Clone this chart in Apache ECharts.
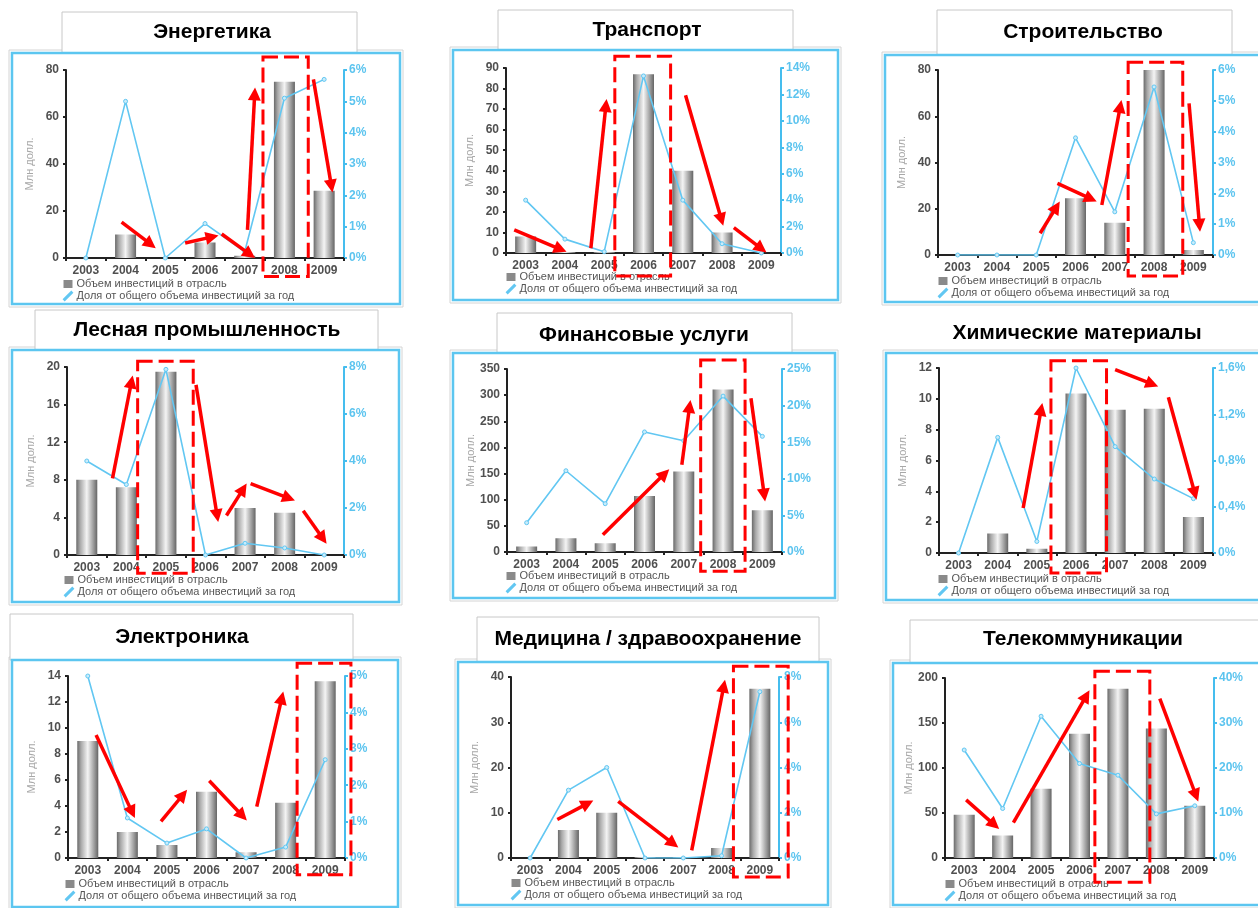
<!DOCTYPE html>
<html><head><meta charset="utf-8">
<script src="https://cdn.jsdelivr.net/npm/echarts@6/dist/echarts.min.js"></script>
<style>html,body{margin:0;padding:0;background:#fff}#c{width:1258px;height:908px}</style>
</head><body><div id="c"></div>
<script>
// ---------- DATA ----------
const years = ['2003', '2004', '2005', '2006', '2007', '2008', '2009'];
const barName = 'Объем инвестиций в отрасль';
const lineName = 'Доля от общего объема инвестиций за год';
const axisName = 'Млн долл.';
const titles = ['Энергетика', 'Транспорт', 'Строительство',
  'Лесная промышленность', 'Финансовые услуги', 'Химические материалы',
  'Электроника', 'Медицина / здравоохранение', 'Телекоммуникации'];

// investment volume, mln USD
const investEnergy    = [0, 10, 0, 6.6, 1, 75, 28.6];
const investTransport = [8, 0.5, 0.5, 87, 40, 10, 0];
const investBuilding  = [0, 0, 0, 24.5, 14, 80, 2.2];
const investForest    = [8, 7.2, 19.5, 0, 5, 4.5, 0];
const investFinance   = [10.5, 26.5, 16.5, 107, 154, 311, 80];
const investChemical  = [0, 1.27, 0.28, 10.35, 9.3, 9.35, 2.33];
const investElectro   = [9, 2, 1, 5.1, 0.45, 4.25, 13.6];
const investMedicine  = [0, 6.2, 10, 0.2, 0.2, 2.2, 37.4];
const investTelecom   = [48, 25, 77, 138, 188, 144, 58];

// share of the year's total investment, %
const shareEnergy    = [0, 5.0, 0, 1.1, 0.2, 5.1, 5.7];
const shareTransport = [4.0, 1.05, 0.1, 13.4, 4.0, 0.7, 0];
const shareBuilding  = [0, 0, 0, 3.8, 1.4, 5.45, 0.4];
const shareForest    = [4.0, 3.0, 7.9, 0, 0.5, 0.3, 0];
const shareFinance   = [4.0, 11.1, 6.6, 16.4, 15.2, 21.3, 15.8];
const shareChemical  = [0, 1.0, 0.1, 1.6, 0.92, 0.64, 0.47];
const shareElectro   = [5.0, 1.1, 0.41, 0.8, 0, 0.3, 2.7];
const shareMedicine  = [0, 3.0, 4.0, 0, 0, 0.1, 7.35];
const shareTelecom   = [24, 11, 31.5, 21, 18.4, 9.8, 11.6];

const invest = [investEnergy, investTransport, investBuilding, investForest, investFinance,
  investChemical, investElectro, investMedicine, investTelecom];
const share = [shareEnergy, shareTransport, shareBuilding, shareForest, shareFinance,
  shareChemical, shareElectro, shareMedicine, shareTelecom];

// tick definitions
const leftMax   = [80, 90, 80, 20, 350, 12, 14, 40, 200];
const leftStep  = [20, 10, 20, 4, 50, 2, 2, 10, 50];
const rightMax  = [6, 14, 6, 8, 25, 1.6, 5, 8, 40];
const rightStep = [1, 2, 1, 2, 5, 0.4, 1, 2, 10];

// annotations in data units: [categoryIndex, leftAxisValue] start -> tip
const arrows = [
  [[0.90, 15.3, 1.76, 4.2], [2.50, 6.4, 3.34, 9.6], [3.42, 10.2, 4.26, 0], [4.07, 12, 4.26, 72.6], [5.73, 76, 6.21, 27.9]],
  [[-0.29, 11.2, 1.04, 0.6], [1.66, 2.3, 2.06, 74.9], [4.07, 76.7, 5.03, 13.2], [5.30, 12.3, 6.13, 0.2]],
  [[2.10, 9.4, 2.60, 23.1], [2.54, 31, 3.54, 23.1], [3.67, 21.6, 4.17, 67], [5.89, 65.6, 6.17, 10.1]],
  [[0.65, 8.15, 1.16, 19.1], [2.76, 18.1, 3.32, 3.5], [3.53, 4.2, 4.04, 7.6], [4.14, 7.6, 5.26, 5.8], [5.47, 4.7, 6.06, 1.2]],
  [[1.94, 33, 3.63, 158.5], [3.95, 166.7, 4.17, 290.8], [5.71, 294, 6.07, 96.6]],
  [[1.65, 2.92, 2.14, 9.73], [4.0, 11.9, 5.10, 10.8], [5.36, 10.1, 6.08, 3.46]],
  [[0.21, 9.47, 1.19, 3.07], [1.85, 2.81, 2.51, 5.25], [3.07, 5.94, 4.02, 2.89], [4.27, 3.96, 4.94, 12.8]],
  [[0.71, 8.5, 1.65, 12.7], [2.30, 12.5, 3.87, 2.3], [4.22, 1.7, 5.09, 39.4]],
  [[0.05, 64.6, 0.91, 32.1], [1.28, 39.4, 3.26, 186.4], [5.09, 177.2, 6.09, 62.7]]
];
const boxes = [
  [4.46, 85.5, 5.60, -7.9], [2.27, 95.7, 3.69, -11.2], [4.34, 83.3, 5.73, -9.1],
  [1.285, 20.6, 2.69, -1.94], [4.43, 367, 5.56, -37], [2.36, 12.47, 3.78, -1.3],
  [5.29, 14.98, 6.65, -1.28], [5.31, 42.4, 6.74, -4.2], [3.40, 207.4, 4.83, -27]
];

// ---------- LAYOUT ----------
const layout = [
  {grid: [66, 70, 278, 188],  title: [212, 32],  frame: [12, 53, 400, 304],   tab: [62, 12, 357, 53],    legend: [63, 278]},
  {grid: [506, 68, 275, 185], title: [647, 30],  frame: [453, 50, 838, 300],  tab: [498, 10, 793, 50],   legend: [506, 271]},
  {grid: [938, 70, 275, 185], title: [1083, 32], frame: [885, 55, 1262, 302], tab: [937, 10, 1232, 55],  legend: [938, 275]},
  {grid: [67, 367, 277, 188], title: [207, 330], frame: [12, 350, 399, 602],  tab: [35, 310, 378, 350],  legend: [64, 574]},
  {grid: [507, 369, 275, 183],title: [644, 335], frame: [453, 353, 835, 598], tab: [497, 313, 792, 353], legend: [506, 570]},
  {grid: [939, 368, 274, 185],title: [1077, 333],frame: [886, 353, 1262, 600],tab: null,                 legend: [938, 573]},
  {grid: [68, 676, 277, 182], title: [182, 637], frame: [12, 660, 398, 907],  tab: [10, 614, 353, 660],  legend: [65, 878]},
  {grid: [511, 677, 268, 181],title: [648, 639], frame: [458, 662, 828, 905], tab: [477, 617, 819, 662], legend: [511, 877]},
  {grid: [945, 678, 269, 180],title: [1083, 639],frame: [893, 663, 1262, 905],tab: [910, 620, 1262, 663],legend: [945, 878]}
];

const FONT = '"Liberation Sans", Arial, sans-serif';
const chart = echarts.init(document.getElementById('c'), null, {renderer: 'canvas'});

const barColor = new echarts.graphic.LinearGradient(0, 0, 1, 0, [
  {offset: 0, color: '#6a6a6a'}, {offset: 0.18, color: '#a9a9a9'},
  {offset: 0.5, color: '#f4f4f4'}, {offset: 0.82, color: '#9a9a9a'}, {offset: 1, color: '#656565'}
]);

const grid = [], xAxis = [], yAxis = [], series = [], legend = [];
layout.forEach((L, g) => {
  grid.push({left: L.grid[0], top: L.grid[1], width: L.grid[2], height: L.grid[3], containLabel: false});
  xAxis.push({
    gridIndex: g, type: 'category', data: years,
    axisLine: {lineStyle: {color: '#222', width: 2}},
    axisTick: {show: true, length: 3, lineStyle: {color: '#222', width: 2}},
    axisLabel: {color: '#505050', fontSize: 12, margin: 7, fontFamily: FONT, fontWeight: 'bold'}
  });
  yAxis.push({
    gridIndex: g, type: 'value', position: 'left', min: 0, max: leftMax[g], interval: leftStep[g],
    name: axisName, nameLocation: 'middle', nameGap: 31,
    nameTextStyle: {color: '#a8a8a8', fontSize: 11, fontFamily: FONT},
    axisLine: {show: true, lineStyle: {color: '#222', width: 2}},
    axisTick: {show: true, length: 3, lineStyle: {color: '#222', width: 2}},
    axisLabel: {color: '#505050', fontSize: 12, margin: 7, fontFamily: FONT, fontWeight: 'bold'},
    splitLine: {show: false}
  });
  yAxis.push({
    gridIndex: g, type: 'value', position: 'right', min: 0, max: rightMax[g], interval: rightStep[g],
    axisLine: {show: true, lineStyle: {color: '#45bdee', width: 2}},
    axisTick: {show: true, length: 3, lineStyle: {color: '#45bdee', width: 2}},
    axisLabel: {color: '#5cc4ef', fontSize: 12, margin: 5, fontFamily: FONT, fontWeight: 'bold',
      formatter: v => String(+v.toFixed(2)).replace('.', ',') + '%'},
    splitLine: {show: false}
  });
  series.push({
    type: 'bar', name: barName, xAxisIndex: g, yAxisIndex: 2 * g, data: invest[g],
    barWidth: 21, itemStyle: {color: barColor}
  });
  series.push({
    type: 'line', name: lineName, xAxisIndex: g, yAxisIndex: 2 * g + 1, data: share[g],
    symbol: 'circle', symbolSize: 4, showSymbol: true,
    lineStyle: {color: '#62c7f2', width: 1.6},
    itemStyle: {color: '#c8ecfb', borderColor: '#62c7f2', borderWidth: 1}
  });
  legend.push({
    orient: 'vertical', left: L.legend[0], top: L.legend[1], padding: 0, itemGap: 0,
    itemWidth: 9, itemHeight: 8, selectedMode: false,
    textStyle: {color: '#555', fontSize: 11, lineHeight: 12, fontFamily: FONT, padding: [0, 0, 0, -1]},
    data: [
      {name: barName, icon: 'rect', itemStyle: {color: '#8a8a8a'}},
      {name: lineName, icon: 'path://M0,9.2 L8.6,0.6 L9.4,1.4 L0.8,10 Z', itemStyle: {color: '#62c7f2'}}
    ]
  });
});

chart.setOption({
  animation: false, backgroundColor: '#fff',
  grid, xAxis, yAxis, series, legend
});

// ---------- ANNOTATIONS ----------
function px(g, i, v) {
  const x0 = chart.convertToPixel({xAxisIndex: g}, 0);
  const x1 = chart.convertToPixel({xAxisIndex: g}, 1);
  const y = chart.convertToPixel({yAxisIndex: 2 * g}, v);
  return [x0 + i * (x1 - x0), y];
}
function arrowEls(a, b) {
  const dx = b[0] - a[0], dy = b[1] - a[1];
  const len = Math.hypot(dx, dy), ux = dx / len, uy = dy / len;
  const hl = 13, hw = 6.5;
  const base = [b[0] - ux * hl, b[1] - uy * hl];
  return [
    {type: 'line', z: 100, shape: {x1: a[0], y1: a[1], x2: base[0] + ux * 2, y2: base[1] + uy * 2},
      style: {stroke: '#ff0000', lineWidth: 3.5}},
    {type: 'polygon', z: 100, shape: {points: [b, [base[0] - uy * hw, base[1] + ux * hw], [base[0] + uy * hw, base[1] - ux * hw]]},
      style: {fill: '#ff0000'}}
  ];
}
const els = [];
layout.forEach((L, g) => {
  const f = L.frame;
  els.push({type: 'rect', z: 0, shape: {x: f[0] - 3, y: f[1] - 3, width: f[2] - f[0] + 6, height: f[3] - f[1] + 6},
    style: {fill: 'none', stroke: '#d4d4d4', lineWidth: 1}});
  if (L.tab) {
    const t = L.tab;
    els.push({type: 'rect', z: 1, shape: {x: t[0], y: t[1], width: t[2] - t[0], height: t[3] - t[1]},
      style: {fill: '#fff', stroke: '#c8c8c8', lineWidth: 1}});
  }
  els.push({type: 'rect', z: 2, shape: {x: f[0], y: f[1], width: f[2] - f[0], height: f[3] - f[1]},
    style: {fill: 'none', stroke: '#5cc6f0', lineWidth: 2.5}});
  els.push({type: 'text', z: 3, x: L.title[0], y: L.title[1],
    style: {text: titles[g], fill: '#000', fontSize: 21, fontWeight: 'bold', fontFamily: FONT,
      align: 'center', verticalAlign: 'middle'}});
  const bx = boxes[g];
  const p0 = px(g, bx[0], bx[1]), p1 = px(g, bx[2], bx[3]);
  els.push({type: 'rect', z: 100, shape: {x: p0[0], y: p0[1], width: p1[0] - p0[0], height: p1[1] - p0[1]},
    style: {fill: 'none', stroke: '#ff0000', lineWidth: 3, lineDash: [15, 6]}});
  arrows[g].forEach(a => {
    arrowEls(px(g, a[0], a[1]), px(g, a[2], a[3])).forEach(e => els.push(e));
  });
});
chart.setOption({graphic: els});
</script>
</body></html>
